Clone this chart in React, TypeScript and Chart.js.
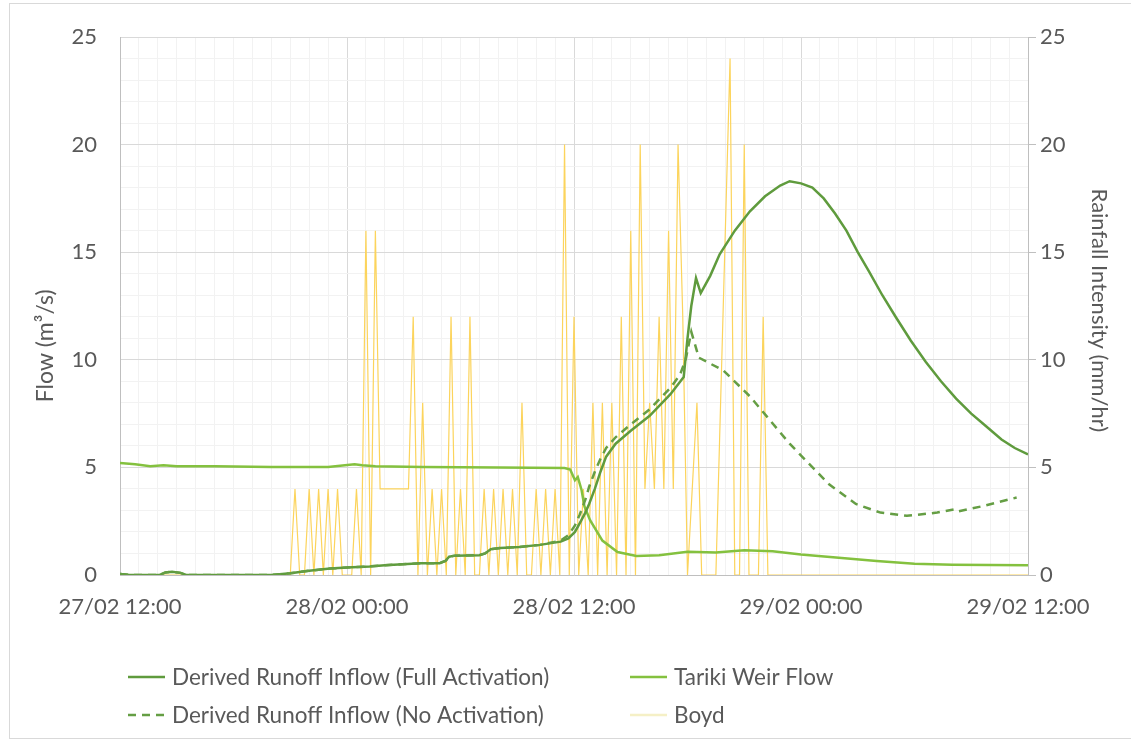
import { useEffect, useRef } from 'react';
import { Chart, registerables } from 'chart.js';

Chart.register(...registerables);

// ---------- data ----------
const X_TICK_HOURS = [0, 12, 24, 36, 48];
const X_TICK_LABELS = ['27/02 12:00', '28/02 00:00', '28/02 12:00', '29/02 00:00', '29/02 12:00'];
const Y_LEFT_TITLE = 'Flow (m³/s)';
const Y_RIGHT_TITLE = 'Rainfall Intensity (mm/hr)';

// Derived Runoff Inflow (Full Activation) – hours since 27/02 12:00, flow m3/s
const FULL_H = [0, 0.3, 0.5, 2.1, 2.4, 2.75, 3.2, 3.5, 8, 9, 10, 11.1, 12, 13.2, 14, 15.9, 16.9, 17.2, 17.4, 17.7, 19, 19.3, 19.6, 20.1, 21.1, 22.2, 23.3, 23.7, 24.05, 24.3, 24.6, 24.8, 25.1, 25.4, 25.7, 26.2, 27, 28, 29.1, 29.8, 30, 30.2, 30.45, 30.7, 31.2, 31.7, 32.5, 33.3, 34.1, 34.9, 35.4, 36.0, 36.6, 37.2, 37.8, 38.4, 39.0, 39.6, 40.3, 41.0, 41.8, 42.6, 43.4, 44.2, 45.0, 45.8, 46.6, 47.3, 48];
const FULL_V = [0.05, 0.02, 0, 0, 0.12, 0.15, 0.1, 0, 0, 0.08, 0.2, 0.3, 0.35, 0.4, 0.45, 0.55, 0.55, 0.65, 0.85, 0.9, 0.92, 1.0, 1.2, 1.25, 1.3, 1.4, 1.55, 1.7, 2.0, 2.4, 2.9, 3.3, 4.0, 4.8, 5.5, 6.1, 6.7, 7.4, 8.4, 9.2, 11.0, 12.5, 13.8, 13.1, 13.9, 14.9, 16.0, 16.9, 17.6, 18.1, 18.3, 18.2, 18.0, 17.5, 16.8, 16.0, 15.0, 14.1, 13.0, 12.0, 10.9, 9.9, 9.0, 8.2, 7.5, 6.9, 6.3, 5.9, 5.6];

// Tariki Weir Flow
const TARIKI_H = [0, 0.8, 1.6, 2.3, 3.0, 5, 8, 11, 12.4, 12.8, 13.5, 16, 20, 23.5, 23.8, 24.05, 24.2, 24.4, 24.55, 24.85, 25.5, 26.3, 27.3, 28.5, 30, 31.5, 33, 34.5, 36, 38, 40, 42, 44, 46, 48];
const TARIKI_V = [5.2, 5.15, 5.05, 5.1, 5.05, 5.05, 5.02, 5.02, 5.15, 5.1, 5.05, 5.02, 5.0, 4.97, 4.9, 4.4, 4.55, 3.95, 3.2, 2.55, 1.6, 1.07, 0.88, 0.92, 1.08, 1.05, 1.15, 1.1, 0.95, 0.8, 0.65, 0.52, 0.48, 0.47, 0.45];

// Derived Runoff Inflow (No Activation)
const NOACT_H = [0, 0.3, 0.5, 2.1, 2.4, 2.75, 3.2, 3.5, 8, 9, 10, 11.1, 12, 13.2, 14, 15.9, 16.9, 17.2, 17.4, 17.7, 19, 19.3, 19.6, 20.1, 21.1, 22.2, 23.3, 23.7, 24.05, 24.3, 24.6, 24.8, 25.1, 25.4, 25.7, 26.2, 27, 28, 29.1, 29.6, 29.9, 30.2, 30.6, 31.9, 33.3, 35.4, 37.5, 38.9, 40.2, 41.6, 43.2, 44.1, 44.3, 45.6, 47.4];
const NOACT_V = [0.05, 0.02, 0, 0, 0.12, 0.15, 0.1, 0, 0, 0.08, 0.2, 0.3, 0.35, 0.4, 0.45, 0.55, 0.55, 0.65, 0.85, 0.9, 0.92, 1.0, 1.2, 1.25, 1.3, 1.4, 1.6, 1.85, 2.3, 2.8, 3.5, 4.1, 4.8, 5.4, 5.9, 6.4, 7.0, 7.7, 8.7, 9.3, 10.0, 11.3, 10.1, 9.5, 8.3, 6.1, 4.2, 3.3, 2.9, 2.75, 2.9, 3.05, 2.95, 3.2, 3.6];

// Boyd rainfall intensity (mm/hr), 15-minute steps from 27/02 12:00
const BOYD_START_H = 0;
const BOYD_STEP_H = 0.25;
const BOYD_V = [
  0, 0, 0, 0, 0, 0, 0, 0, 0, 0, 0, 0, 0, 0, 0, 0, 0, 0, 0, 0, // 0-19
  0, 0, 0, 0, 0, 0, 0, 0, 0, 0, 0, 0, 0, 0, 0, 0, 0, 4, 0, 0, // 20-39
  4, 0, 4, 0, 4, 0, 4, 0, 0, 0, 4, 0, 16, 0, 16, 4, 4, 4, 4, 4, // 40-59
  4, 4, 12, 0, 8, 0, 4, 0, 4, 0, 12, 0, 4, 0, 12, 0, 0, 4, 0, 4, // 60-79
  0, 4, 0, 4, 0, 8, 0, 0, 4, 0, 4, 0, 4, 0, 20, 0, 12, 0, 4, 0, // 80-99
  8, 0, 8, 0, 8, 0, 12, 0, 16, 0, 20, 4, 8, 4, 12, 4, 16, 4, 20, 12, // 100-119
  0, 4, 8, 0, 0, 0, 0, 8, 16, 24, 0, 0, 20, 0, 0, 0, 12, 0, 0, 0, // 120-139
  0, 0, 0, 0, 0, 0, 0, 0, 0, 0, 0, 0, 0, 0, 0, 0, 0, 0, 0, 0, // 140-159
  0, 0, 0, 0, 0, 0, 0, 0, 0, 0, 0, 0, 0, 0, 0, 0, 0, 0, 0, 0, // 160-179
  0, 0, 0, 0, 0, 0, 0, 0, 0, 0, 0, 0, 0, // 180-192
];

const FONT = 'Lato, "Open Sans", sans-serif';
const TEXT = '#595959';
const MAJOR_GRID = '#d9d9d9';
const MINOR_GRID = '#f2f2f2';

const pts = (h: number[], v: number[]) => h.map((x, i) => ({ x, y: v[i] }));

const legendPlugin = {
  id: 'excelLegend',
  afterDraw(chart: any) {
    const ctx = chart.ctx as CanvasRenderingContext2D;
    const items = [
      { ds: 0, col: 0, row: 0 },
      { ds: 1, col: 1, row: 0 },
      { ds: 2, col: 0, row: 1 },
      { ds: 3, col: 1, row: 1 },
    ];
    const colX = [128, 630];
    const rowY = [677, 715];
    ctx.save();
    ctx.font = `22.5px ${FONT}`;
    ctx.textBaseline = 'middle';
    ctx.textAlign = 'left';
    for (const it of items) {
      const ds = chart.data.datasets[it.ds];
      const x = colX[it.col];
      const y = rowY[it.row];
      ctx.strokeStyle = ds.legendColor || ds.borderColor;
      ctx.lineWidth = ds.legendWidth || ds.borderWidth;
      ctx.setLineDash(ds.borderDash || []);
      ctx.beginPath();
      ctx.moveTo(x, y);
      ctx.lineTo(x + 37, y);
      ctx.stroke();
      ctx.setLineDash([]);
      ctx.fillStyle = TEXT;
      ctx.fillText(ds.label, x + 44, y + 1);
    }

    // axis titles
    const left = chart.scales.y;
    const right = chart.scales.y1;
    ctx.fillStyle = TEXT;
    ctx.textAlign = 'center';
    ctx.font = `23px ${FONT}`;
    ctx.save();
    ctx.translate(left.left + 46, left.getPixelForValue(10.65));
    ctx.rotate(-Math.PI / 2);
    ctx.fillText(Y_LEFT_TITLE, 0, 0);
    ctx.restore();
    ctx.font = `22px ${FONT}`;
    ctx.save();
    ctx.translate(right.left + 71, right.getPixelForValue(12.3));
    ctx.rotate(Math.PI / 2);
    ctx.fillText(Y_RIGHT_TITLE, 0, 0);
    ctx.restore();
    ctx.restore();
  },
};

export default function App() {
  const ref = useRef<HTMLCanvasElement>(null);

  useEffect(() => {
    if (!ref.current) return;
    const chart = new Chart(ref.current, {
      type: 'line',
      data: {
        datasets: [
          {
            label: 'Derived Runoff Inflow (Full Activation)',
            data: pts(FULL_H, FULL_V),
            borderColor: '#5f9b3d',
            borderWidth: 2.5,
            pointRadius: 0,
            tension: 0,
            yAxisID: 'y',
            order: 1,
          },
          {
            label: 'Tariki Weir Flow',
            data: pts(TARIKI_H, TARIKI_V),
            borderColor: '#84c13f',
            borderWidth: 2.5,
            pointRadius: 0,
            tension: 0,
            yAxisID: 'y',
            order: 2,
          },
          {
            label: 'Derived Runoff Inflow (No Activation)',
            data: pts(NOACT_H, NOACT_V),
            borderColor: '#659e44',
            borderWidth: 2.5,
            borderDash: [8, 6],
            pointRadius: 0,
            tension: 0,
            yAxisID: 'y',
            order: 0,
          },
          {
            label: 'Boyd',
            data: BOYD_V.map((v, i) => ({ x: BOYD_START_H + i * BOYD_STEP_H, y: v })),
            borderColor: '#fcd45c',
            borderWidth: 1.2,
            pointRadius: 0,
            tension: 0,
            yAxisID: 'y1',
            order: 5,
            legendColor: '#f5f0c6',
            legendWidth: 2.5,
          } as any,
        ],
      },
      options: {
        responsive: false,
        animation: false,
        events: [],
        layout: { padding: { top: 37, left: 0, right: 0, bottom: 0 } },
        plugins: { legend: { display: false }, tooltip: { enabled: false } },
        scales: {
          x: {
            type: 'linear',
            min: 0,
            max: 48,
            afterFit: (s: any) => {
              s.height = 165;
              s.paddingLeft = 0;
              s.paddingRight = 0;
            },
            ticks: {
              stepSize: 1,
              autoSkip: false,
              maxRotation: 0,
              minRotation: 0,
              padding: 19,
              color: TEXT,
              font: { family: FONT, size: 22 },
              callback: (v: any) => {
                const idx = X_TICK_HOURS.indexOf(Number(v));
                return idx >= 0 ? X_TICK_LABELS[idx] : '';
              },
            },
            grid: {
              drawTicks: false,
              color: (c: any) => (c.tick && c.tick.value % 12 === 0 ? MAJOR_GRID : MINOR_GRID),
              lineWidth: 1,
            },
            border: { display: true, color: '#bfbfbf' },
          },
          y: {
            position: 'left',
            min: 0,
            max: 25,
            afterFit: (s: any) => {
              s.width = 120;
              s.paddingTop = 0;
              s.paddingBottom = 0;
            },
            ticks: {
              stepSize: 1,
              autoSkip: false,
              padding: 23,
              color: TEXT,
              font: { family: FONT, size: 22 },
              callback: (v: any) => (Number(v) % 5 === 0 ? String(v) : ''),
            },
            grid: {
              drawTicks: false,
              color: (c: any) => (c.tick && c.tick.value % 5 === 0 ? MAJOR_GRID : MINOR_GRID),
            },
            border: { display: true, color: '#bfbfbf' },
          },
          y1: {
            position: 'right',
            min: 0,
            max: 25,
            afterFit: (s: any) => {
              s.width = 103;
              s.paddingTop = 0;
              s.paddingBottom = 0;
            },
            ticks: {
              stepSize: 5,
              padding: 4,
              color: TEXT,
              font: { family: FONT, size: 22 },
            },
            grid: {
              drawOnChartArea: false,
              drawTicks: true,
              tickLength: 8,
              color: '#bfbfbf',
            },
            border: { display: true, color: '#bfbfbf' },
          },
        },
      },
      plugins: [legendPlugin],
    } as any);
    return () => chart.destroy();
  }, []);

  return (
    <div style={{ position: 'fixed', left: 0, top: 0, width: 1131, height: 740, background: '#fff' }}>
      <canvas ref={ref} width={1131} height={740} style={{ position: 'absolute', left: 0, top: 0 }} />
      <div
        style={{
          position: 'absolute',
          left: 9,
          top: 3,
          width: 1122,
          height: 736,
          boxSizing: 'border-box',
          borderLeft: '1px solid #d9d9d9',
          borderTop: '1px solid #d9d9d9',
          borderBottom: '1px solid #d9d9d9',
          pointerEvents: 'none',
        }}
      />
    </div>
  );
}
